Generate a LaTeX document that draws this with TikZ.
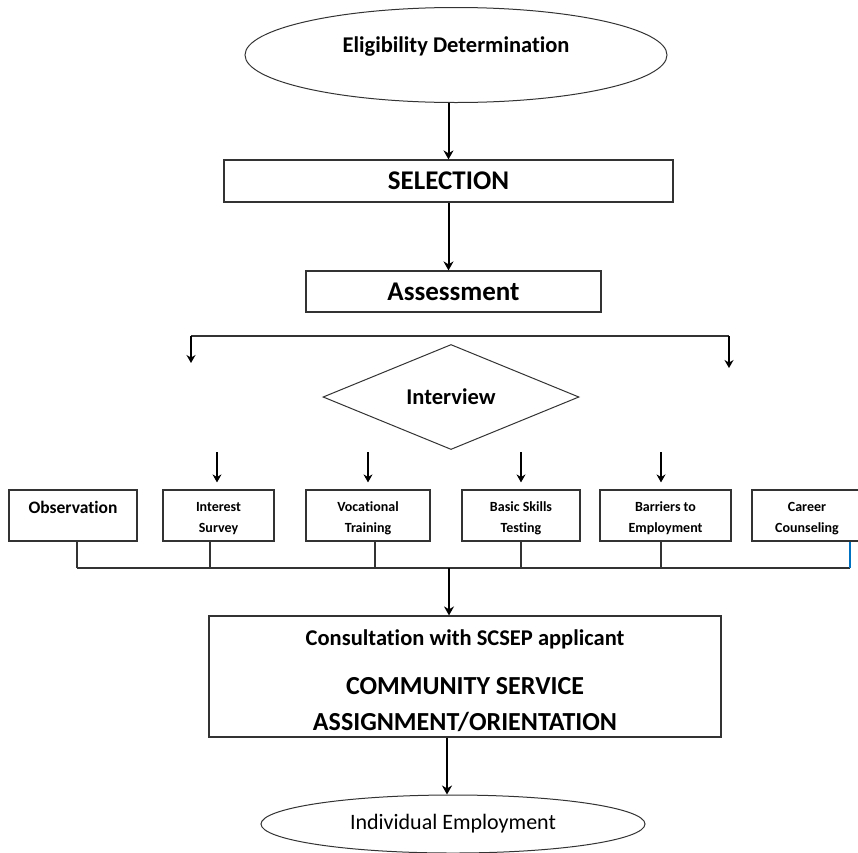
\documentclass[tikz,border=0pt]{standalone}
\usepackage{fontspec}
\setmainfont{Carlito}[Ligatures=NoCommon]
\usetikzlibrary{shapes.geometric,arrows.meta}

\newcommand{\lift}[1]{\rule{0pt}{#1}}

\begin{document}
\begin{tikzpicture}[x=1pt, y=-1pt,
	box/.style={draw=black!80, line width=1.2pt, inner sep=0pt, font=\bfseries},
	smallbox/.style={box, minimum height=51pt, align=center, font=\bfseries\fontsize{14}{21}\selectfont},
	oval/.style={draw=black!80, line width=1pt, ellipse, inner sep=0pt},
	link/.style={draw=black!80, line width=1.2pt},
	flow/.style={line width=2pt, -{Stealth[length=9pt,width=10pt]}},
	thinflow/.style={line width=1.5pt, -{Stealth[length=8pt,width=9pt]}}]
	\fill [white] (0,0) rectangle (858,852);
	\useasboundingbox (0,0) rectangle (858,852);

	% main column
	\node [oval, minimum width=422pt, minimum height=95pt, text height=12pt, text depth=18pt,
		font=\bfseries\fontsize{22.5}{24}\selectfont] (elig) at (456,55) {Eligibility Determination};
	\node [box, minimum width=449pt, minimum height=42pt, font=\bfseries\fontsize{27}{29}\selectfont] (sel) at (448.5,181) {SELECTION};
	\node [box, minimum width=295pt, minimum height=41pt, font=\bfseries\fontsize{27}{29}\selectfont] (assess) at (453.5,291.5) {Assessment};
	\node [draw=black!80, line width=1pt, diamond, inner sep=0pt, minimum width=256pt, minimum height=91pt,
		font=\bfseries\fontsize{22.5}{24}\selectfont] (intv) at (451,397) {Interview};

	% assessment tools
	\node [smallbox, minimum width=128pt, text height=12pt, text depth=16pt, font=\bfseries\fontsize{17.5}{19}\selectfont] (obs) at (73,515.5) {Observation};
	\node [smallbox, minimum width=111pt] (isurv) at (218.5,515.5) {\lift{16pt}Interest\\Survey};
	\node [smallbox, minimum width=124pt] (voc) at (368,515.5) {\lift{16pt}Vocational\\Training};
	\node [smallbox, minimum width=118pt] (basic) at (521,515.5) {\lift{16pt}Basic Skills\\Testing};
	\node [smallbox, minimum width=131pt] (barr) at (665.5,515.5) {\lift{16pt}Barriers to\\Employment};
	\node [smallbox, minimum width=110pt] (career) at (807,515.5) {\lift{16pt}Career\\Counseling};

	\node [box, minimum width=512pt, minimum height=121pt, align=center, font=\bfseries\fontsize{26}{36}\selectfont] (consult) at (465,676.5)
		{{\fontsize{22.5}{24}\selectfont\lift{25pt}Consultation with SCSEP applicant}\\[13pt] COMMUNITY SERVICE\\ASSIGNMENT/ORIENTATION};
	\node [oval, minimum width=384pt, minimum height=58pt, font=\fontsize{22}{24}\selectfont] (indiv) at (453,824) {Individual Employment};

	\draw [flow] (elig.south -| sel.north) -- (sel.north);
	\draw [flow] (sel.south) -- (sel.south |- assess.north);

	% split above the interview
	\coordinate (splitL) at (191,336);
	\coordinate (splitR) at (729,336);
	\draw [link] (splitL) -- (splitR);
	\draw [thinflow] (splitL) -- ++(0,27);
	\draw [thinflow] (splitR) -- ++(0,32);

	\draw [thinflow] ([xshift=-1.5pt, yshift=37pt]isurv.north) -- ([xshift=-1.5pt, yshift=7pt]isurv.north);
	\draw [thinflow] ([yshift=37pt]voc.north) -- ([yshift=7pt]voc.north);
	\draw [thinflow] ([yshift=37pt]basic.north) -- ([yshift=7pt]basic.north);
	\draw [thinflow] ([xshift=-4.5pt, yshift=37pt]barr.north) -- ([xshift=-4.5pt, yshift=7pt]barr.north);

	% joining line under the tools
	\coordinate (busL) at (77,568);
	\coordinate (busR) at (850,568);
	\coordinate (busM) at (449,568);
	\draw [link] (busL) -- (busR);
	\draw [link] ([xshift=4pt]obs.south) -- ([xshift=4pt]obs.south |- busL);
	\draw [link] ([xshift=-8.5pt]isurv.south) -- ([xshift=-8.5pt]isurv.south |- busL);
	\draw [link] ([xshift=7pt]voc.south) -- ([xshift=7pt]voc.south |- busL);
	\draw [link] (basic.south) -- (basic.south |- busL);
	\draw [link] ([xshift=-4.5pt]barr.south) -- ([xshift=-4.5pt]barr.south |- busL);
	\draw [line width=1.2pt, color={rgb,255:red,0;green,112;blue,192}] (busR |- career.south) -- (busR);

	\draw [flow] (busM) -- (busM |- consult.north);
	\draw [flow] ([xshift=-6pt]indiv.north |- consult.south) -- ([xshift=-6pt]indiv.north);
\end{tikzpicture}
\end{document}
